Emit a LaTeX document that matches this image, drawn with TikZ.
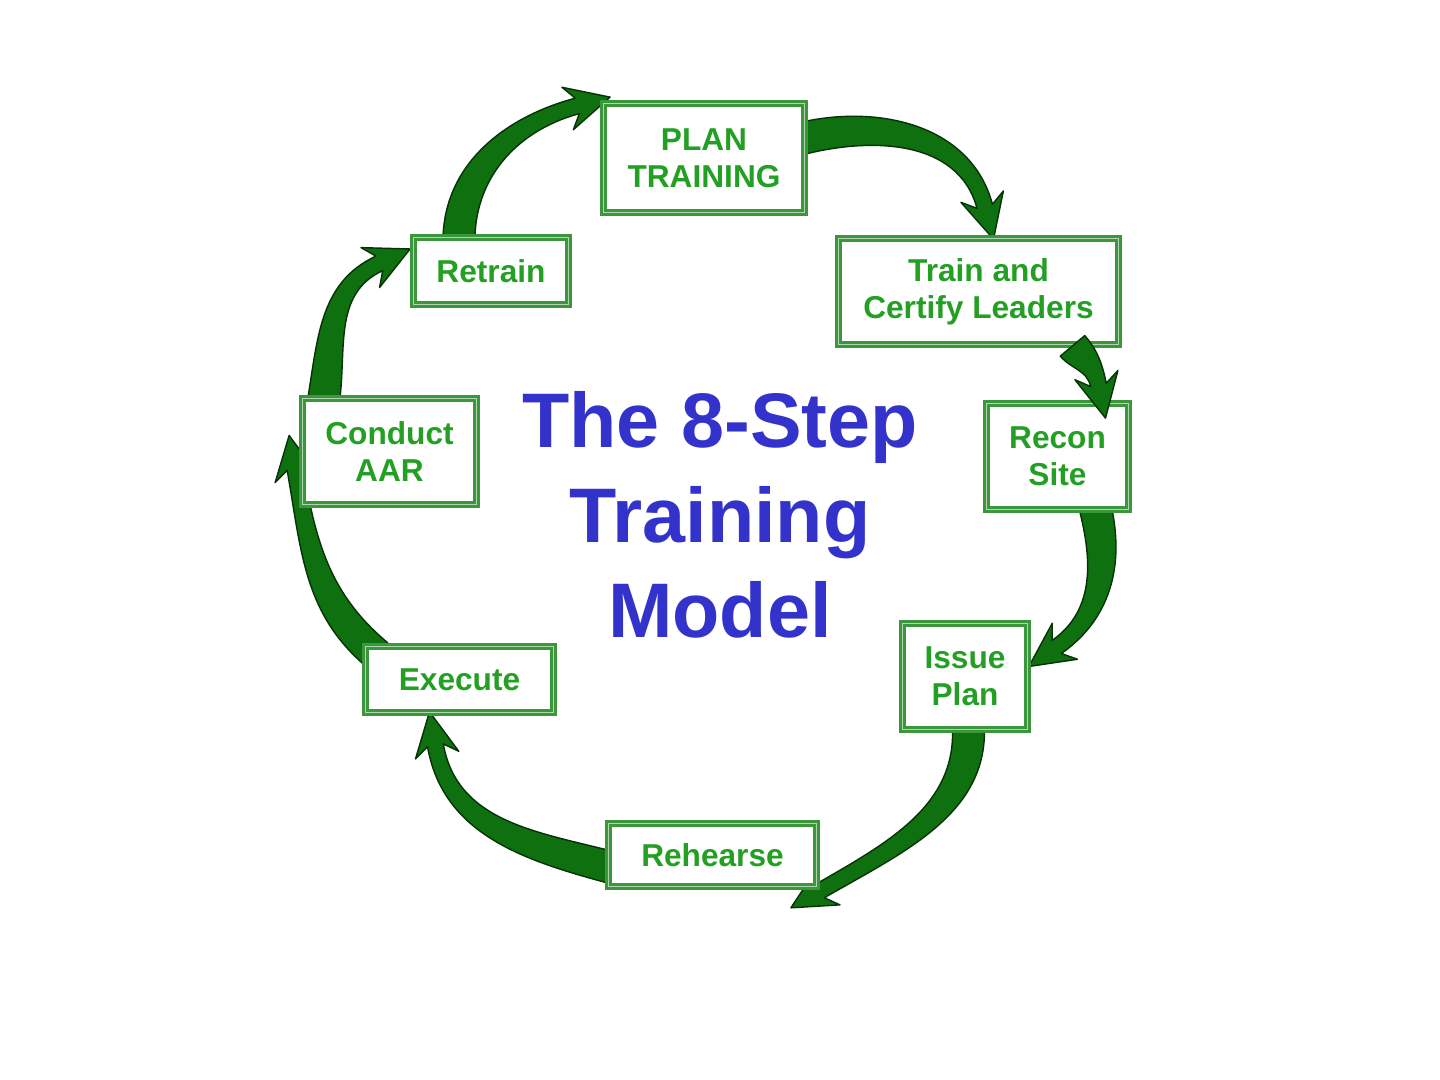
\documentclass[tikz,border=0pt]{standalone}
\usepackage{fontspec}
\setmainfont{Liberation Sans}
\usetikzlibrary{calc,backgrounds}

\definecolor{boxgreen}{RGB}{60,150,60}
\definecolor{linegreen}{RGB}{175,215,175}
\definecolor{textgreen}{RGB}{35,160,35}
\definecolor{arrowgreen}{RGB}{15,112,15}
\definecolor{titleblue}{RGB}{51,51,204}

\tikzset{
 stepbox/.style={draw=boxgreen, line width=.75pt, double=linegreen, double distance=.45pt,
   fill=white, inner sep=0pt, align=center, text=textgreen,
   font=\bfseries\fontsize{9}{10.5}\selectfont},
 flowarrow/.style={fill=arrowgreen, draw=black!55!arrowgreen, line width=.4pt, line join=round},
 title/.style={text=titleblue, align=center, font=\bfseries\fontsize{22}{27}\selectfont}
}

% from node, shift, out angle, to node, shift, in angle
\newcommand{\cyclearrow}[6]{%
 \filldraw[flowarrow]
  ($(#1)+(#2)+(#3+90:16)$) to[out=#3,in=#6] ($(#4)+(#5)+(#6:34)+(#6-90:8)$)
  -- ($(#4)+(#5)+(#6:44)+(#6-90:22)$) -- ($(#4)+(#5)$)
  -- ($(#4)+(#5)+(#6:44)+(#6+90:22)$) -- ($(#4)+(#5)+(#6:34)+(#6+90:8)$)
  to[out=#6,in=#3] ($(#1)+(#2)+(#3-90:16)$) -- cycle;
}

\begin{document}
\begin{tikzpicture}[x=0.01cm,y=0.01cm]
\useasboundingbox (0,0) rectangle (1440,1080);

% the eight steps
\node[stepbox, minimum width=2.01cm, minimum height=1.09cm] (plan)     at (704,922)   {PLAN\\TRAINING};
\node[stepbox, minimum width=2.80cm, minimum height=1.06cm] (train)    at (978.5,788.5) {Train and\\Certify Leaders};
\node[stepbox, minimum width=1.42cm, minimum height=1.06cm] (recon)    at (1057.5,623.5) {Recon\\Site};
\node[stepbox, minimum width=1.25cm, minimum height=1.06cm] (issue)    at (965,403.5) {Issue\\Plan};
\node[stepbox, minimum width=2.08cm, minimum height=0.63cm] (rehearse) at (712.5,225) {Rehearse};
\node[stepbox, minimum width=1.88cm, minimum height=0.66cm] (execute)  at (459.5,400.5) {Execute};
\node[stepbox, minimum width=1.74cm, minimum height=1.06cm] (aar)      at (389.5,628.5) {Conduct\\AAR};
\node[stepbox, minimum width=1.55cm, minimum height=0.67cm] (retrain)  at (491,809)   {Retrain};

\node[title] (model) at (720,565) {The 8-Step\\Training\\Model};

% curved arrows round the cycle, behind the boxes
\begin{scope}[on background layer]
\cyclearrow{plan.east}{-10,18}{15}{train.north}{15,-2}{105}
\cyclearrow{recon.south}{36,10}{-75}{issue.east}{0,10}{35}
\cyclearrow{issue.south}{3,10}{-85}{rehearse.south east}{-27,-20}{30}
\cyclearrow{rehearse.west}{10,-14}{165}{execute.south}{-30,2}{-80}
\cyclearrow{execute.north}{-82,-10}{140}{aar.west}{-12,16}{-80}
\cyclearrow{aar.north}{-67,-10}{80}{retrain.west}{-2,22}{205}
\cyclearrow{retrain.north}{-32,-10}{92}{plan.north west}{8,5}{195}
\end{scope}
% short one, over the box edges
\cyclearrow{train.south}{94,0}{-50}{recon.north}{48,-16}{102}
\end{tikzpicture}
\end{document}
